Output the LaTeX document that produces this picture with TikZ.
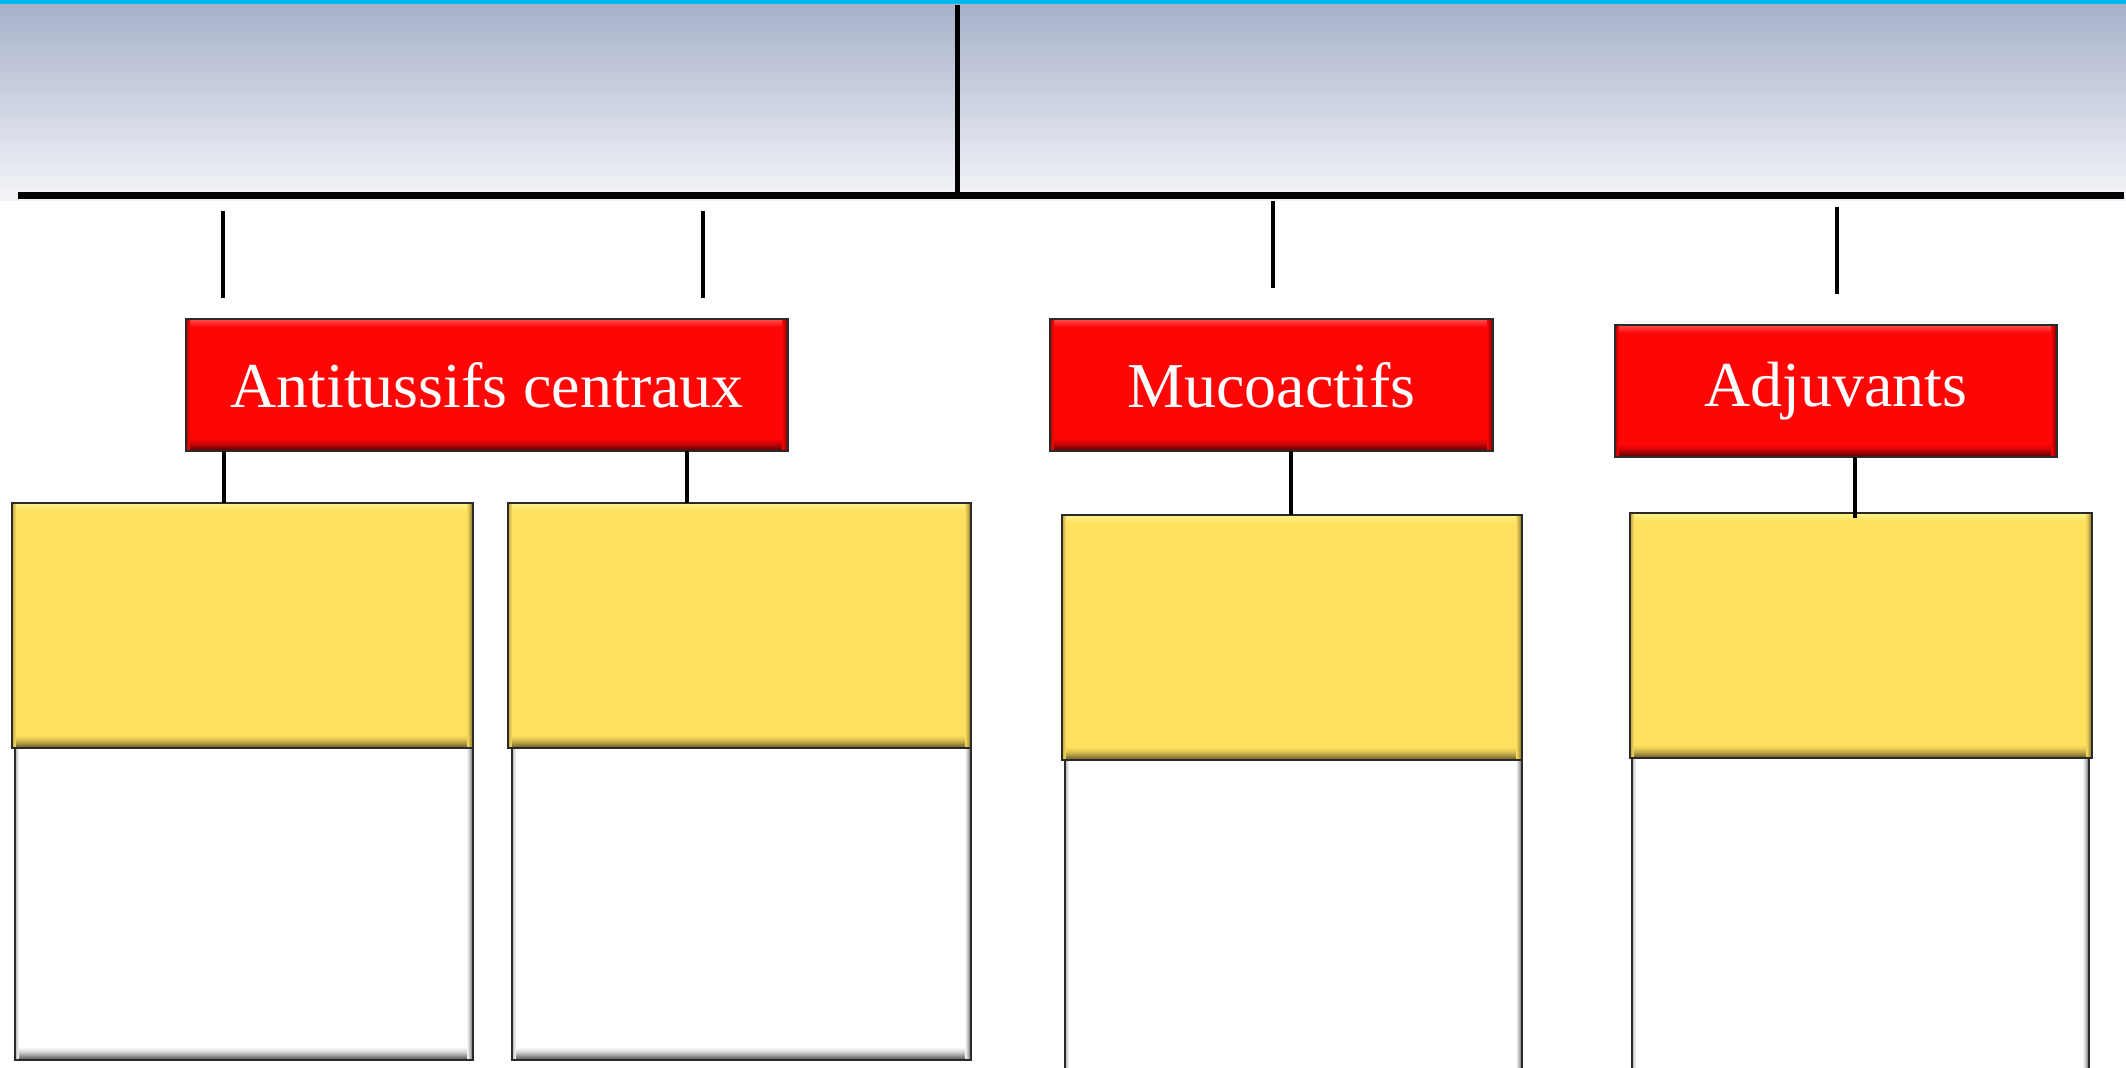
\documentclass[tikz,border=0pt]{standalone}
\usepackage{fontspec}
\setmainfont{Liberation Serif}
\usetikzlibrary{calc}
\definecolor{cyanline}{HTML}{00B4F0}
\definecolor{bandtop}{HTML}{A7B1CA}
\definecolor{bandbot}{HTML}{F4F5F9}
\definecolor{redfill}{HTML}{FF0606}
\definecolor{reddark}{HTML}{5A0000}
\definecolor{redlight}{HTML}{FF5050}
\definecolor{yelfill}{HTML}{FFE15F}
\definecolor{yeldark}{HTML}{6E5F28}
\definecolor{yellight}{HTML}{FFF48A}
\definecolor{whdark}{HTML}{555555}
\definecolor{edge}{HTML}{2A2A2A}
\newcommand\mybevel[3]{%
  \foreach \k in {0,...,12}{%
    \pgfmathsetmacro\pct{100*(1-\k/13)^1.6}%
    \fill[#2!\pct!#1] ([yshift=\k*0.1mm]path picture bounding box.south west)
      rectangle ([yshift=(\k+1)*0.1mm]path picture bounding box.south east);
  }%
  \foreach \k in {0,...,7}{%
    \pgfmathsetmacro\pct{100*(1-\k/8)}%
    \fill[#3!\pct!#1] ([yshift=-\k*0.1mm]path picture bounding box.north west)
      rectangle ([yshift=-(\k+1)*0.1mm]path picture bounding box.north east);
  }%
  \foreach \k in {0,...,5}{%
    \pgfmathsetmacro\pct{80*(1-\k/6)^1.5}%
    \fill[#2!\pct!#1] ([xshift=-\k*0.1mm]path picture bounding box.north east)
      rectangle ([xshift=-(\k+1)*0.1mm]path picture bounding box.south east);
  }%
  \foreach \k in {0,...,3}{%
    \pgfmathsetmacro\pct{45*(1-\k/4)}%
    \fill[#2!\pct!#1] ([xshift=\k*0.1mm]path picture bounding box.north west)
      rectangle ([xshift=(\k+1)*0.1mm]path picture bounding box.south west);
  }%
}
\tikzset{
  bevelbox/.style n args={3}{rectangle, inner sep=0pt, outer sep=0pt,
    fill=#1, draw=edge, line width=0.6pt,
    path picture={\mybevel{#1}{#2}{#3}}},
  redbox/.style={bevelbox={redfill}{reddark}{redlight}, anchor=north west,
    minimum height=13.2mm, text=white, font=\fontsize{18.2}{22}\selectfont},
  yelbox/.style={bevelbox={yelfill}{yeldark}{yellight}, anchor=north west,
    minimum height=24.5mm},
  whbox/.style={bevelbox={white}{whdark}{white}, anchor=north west},
  bar/.style={line width=0.7mm, black},
  vline/.style={line width=0.5mm, black},
  tickline/.style={line width=0.42mm, black},
  conn/.style={line width=0.45mm, black}
}
\begin{document}
\begin{tikzpicture}[x=0.1mm, y=-0.1mm]
\useasboundingbox (0,0) rectangle (2126,1067);
\fill[white] (0,0) rectangle (2126,1067);
\begin{scope}
\clip (0,0) rectangle (2126,1067);
% header band
\shade[top color=bandtop, bottom color=bandbot] (0,4) rectangle (2126,200);
\fill[cyanline] (0,0) rectangle (2126,4);
% main bar and top stem
\coordinate (barL) at (18,195);
\coordinate (barR) at (2124,195);
\coordinate (stemTop) at (957,5);
\coordinate (stemBot) at (957,192);
\draw[vline] (stemTop) -- (stemBot);
\draw[bar] (barL) -- (barR);
% floating ticks
\coordinate (t1a) at (223,211); \coordinate (t1b) at (223,298);
\coordinate (t2a) at (703,211); \coordinate (t2b) at (703,298);
\coordinate (t3a) at (1273,201); \coordinate (t3b) at (1273,288);
\coordinate (t4a) at (1837,207); \coordinate (t4b) at (1837,294);
\draw[tickline] (t1a) -- (t1b);
\draw[tickline] (t2a) -- (t2b);
\draw[tickline] (t3a) -- (t3b);
\draw[tickline] (t4a) -- (t4b);
% red category boxes
\node[redbox, minimum width=60.2mm] (r1) at (186,319) {Antitussifs centraux};
\node[redbox, minimum width=44.3mm] (r2) at (1050,319) {Mucoactifs};
\node[redbox, minimum width=44.2mm] (r3) at (1615,325) {Adjuvants};
% white boxes
\node[whbox, minimum width=45.8mm, minimum height=31.2mm] (w1) at (15,748) {};
\node[whbox, minimum width=45.9mm, minimum height=31.2mm] (w2) at (512,748) {};
\node[whbox, minimum width=45.7mm, minimum height=32.5mm] (w3) at (1065,760) {};
\node[whbox, minimum width=45.7mm, minimum height=32.5mm] (w4) at (1632,758) {};
% yellow boxes
\node[yelbox, minimum width=46.1mm] (y1) at (12,503) {};
\node[yelbox, minimum width=46.3mm] (y2) at (508,503) {};
\node[yelbox, minimum width=46.0mm] (y3) at (1062,515) {};
\node[yelbox, minimum width=46.2mm] (y4) at (1630,513) {};
% connectors red -> yellow
\draw[conn] (224,0 |- r1.south) -- (224,0 |- y1.north);
\draw[conn] (687,0 |- r1.south) -- (687,0 |- y2.north);
\draw[conn] (1291,0 |- r2.south) -- (1291,0 |- y3.north);
\draw[conn] (1855,0 |- r3.south) -- (1855,518);
\end{scope}
\end{tikzpicture}
\end{document}
